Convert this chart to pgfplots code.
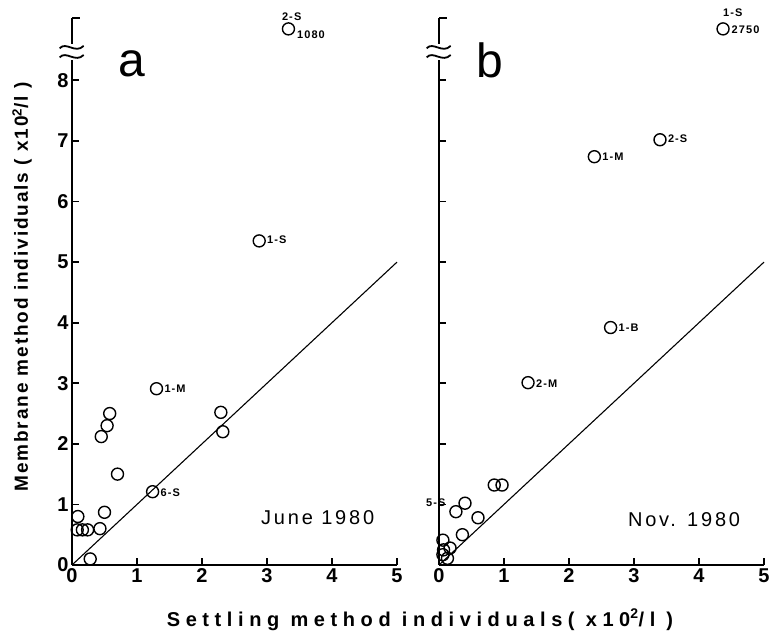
\documentclass[border=0pt]{standalone}
\usepackage{pgfplots}
\pgfplotsset{compat=1.18}
\usepackage{fontspec}
\setmainfont{Liberation Sans}
\newfontfamily\ylblfont{Liberation Sans}[LetterSpace=10]
\newfontfamily\xlblfont{Liberation Sans}[LetterSpace=28]
\newfontfamily\datefont{Liberation Sans}[LetterSpace=14]
\newfontfamily\smallfont{Liberation Sans}[LetterSpace=10]

\pgfplotstableread{
x y
0.28 0.10
0.08 0.58
0.16 0.58
0.24 0.58
0.09 0.80
0.43 0.60
0.50 0.87
0.45 2.12
0.54 2.30
0.58 2.50
0.70 1.50
1.24 1.21
1.30 2.91
2.29 2.52
2.32 2.20
2.88 5.35
3.33 8.85
}\juneTable

\pgfplotstableread{
x y
0.06 0.17
0.07 0.25
0.13 0.11
0.17 0.28
0.06 0.41
0.36 0.50
0.26 0.88
0.40 1.02
0.60 0.78
0.85 1.32
0.97 1.32
1.37 3.01
2.64 3.92
2.39 6.74
3.40 7.02
4.37 8.85
}\novTable

\pgfplotsset{
  panel/.style={
    scale only axis,
    width=325pt, height=547pt,
    anchor=south west,
    xmin=0, xmax=5, ymin=0, ymax=9.03,
    axis lines=left,
    axis line style={-, line width=2pt},
    xtick={0,1,2,3,4,5},
    ytick={0,1,2,3,4,5,6,7,8},
    tick align=inside,
    major tick length=7pt,
    tick style={line width=1.8pt, black},
    tick label style={font=\fontsize{20}{20}\selectfont\bfseries},
    /pgf/number format/assume math mode=true,
    clip=false,
  },
  pts/.style={only marks, mark=o, mark size=6pt, line width=1.4pt, black},
}
\tikzset{
  tag/.style={font=\fontsize{11}{11}\selectfont\bfseries\smallfont, anchor=west, inner sep=0pt},
}

\newcommand{\axisbreak}{%
  \fill[white] (axis cs:-0.2,8.33) rectangle (axis cs:0.2,8.6);
  \draw[line width=1.8pt] (axis cs:-0.19,8.38) .. controls (axis cs:-0.09,8.5) and (axis cs:0.05,8.28) .. (axis cs:0.18,8.42);
  \draw[line width=1.8pt] (axis cs:-0.19,8.53) .. controls (axis cs:-0.09,8.65) and (axis cs:0.05,8.43) .. (axis cs:0.18,8.57);
  \draw[line width=2pt] (axis cs:0,9.03) -- (axis cs:0.12,9.03);
}

\begin{document}
\begin{tikzpicture}[x=1pt,y=1pt]
\useasboundingbox (0,0) rectangle (777,639);

\begin{axis}[panel, at={(72pt,74pt)}]
\addplot[line width=1.1pt, black] coordinates {(0,0) (5,5)};
\addplot[pts] table[x=x,y=y] {\juneTable};
\axisbreak
\node[font=\fontsize{48}{48}\selectfont] at (axis cs:0.92,8.28) {a};
\node[font=\fontsize{20}{20}\selectfont\datefont] at (axis cs:3.78,0.78) {June 1980};
\node[tag, anchor=south] at (axis cs:3.38,8.98) {2-S};
\node[tag] at (axis cs:3.46,8.76) {1080};
\node[tag] at (axis cs:3.0,5.37) {1-S};
\node[tag] at (axis cs:1.42,2.91) {1-M};
\node[tag] at (axis cs:1.36,1.19) {6-S};
\end{axis}

\begin{axis}[panel, at={(439pt,74pt)}, yticklabels={}]
\addplot[line width=1.1pt, black] coordinates {(0,0) (5,5)};
\addplot[pts] table[x=x,y=y] {\novTable};
\axisbreak
\node[font=\fontsize{48}{48}\selectfont] at (axis cs:0.78,8.33) {b};
\node[font=\fontsize{20}{20}\selectfont\datefont] at (axis cs:3.77,0.75) {Nov. 1980};
\node[tag, anchor=south] at (axis cs:4.52,9.05) {1-S};
\node[tag] at (axis cs:4.5,8.84) {2750};
\node[tag] at (axis cs:3.52,7.04) {2-S};
\node[tag] at (axis cs:2.51,6.74) {1-M};
\node[tag] at (axis cs:2.76,3.92) {1-B};
\node[tag] at (axis cs:1.49,3.0) {2-M};
\node[tag, anchor=center] at (axis cs:-0.05,1.02) {5-S};
\end{axis}

\node[rotate=90, font=\fontsize{19}{19}\selectfont\bfseries\ylblfont] at (22,352) {Membrane method individuals ( x10\textsuperscript{2}/l )};
\node[font=\fontsize{20}{20}\selectfont\bfseries\xlblfont] at (420,19) {Settling method individuals( x10\textsuperscript{2}/l )};
\end{tikzpicture}
\end{document}
